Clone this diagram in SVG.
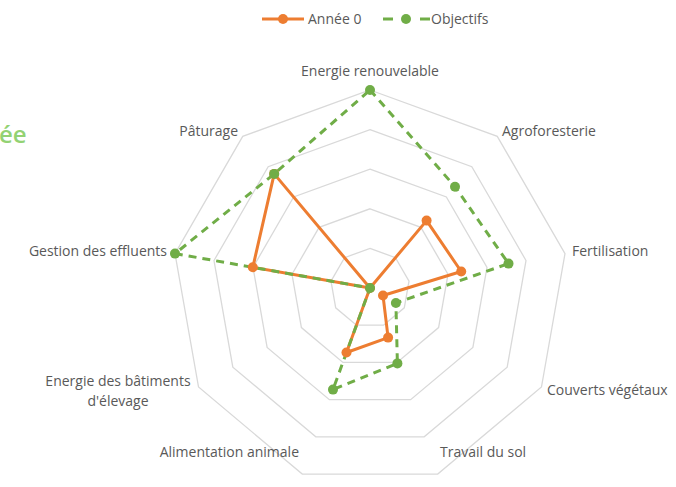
<svg xmlns="http://www.w3.org/2000/svg" width="676" height="487" viewBox="0 0 676 487">
<style>
.grid{fill:none;stroke:#d9d9d9;stroke-width:1.3}
.lbl{font-family:"Open Sans","Liberation Sans",sans-serif;font-size:14px;fill:#595959}
.o{fill:none;stroke:#ed7d31;stroke-width:3;stroke-linejoin:round}
.g{fill:none;stroke:#70ad47;stroke-width:3;stroke-dasharray:8 6}
.om{fill:#ed7d31}
.gm{fill:#70ad47}
</style>
<rect width="676" height="487" fill="#ffffff"/>
<text x="-1" y="143" style="font-family:'Open Sans','Liberation Sans',sans-serif;font-size:24px;font-weight:600;fill:#93d273">ée</text>
<g id="grid">
<polygon class="grid" points="370,248.4 395.45,257.67 409,281.13 404.29,307.8 383.54,325.21 356.46,325.21 335.71,307.8 331,281.13 344.55,257.67"/>
<polygon class="grid" points="370,208.8 420.9,227.33 448,274.25 438.59,327.6 397.09,362.42 342.91,362.42 301.41,327.6 292,274.25 319.1,227.33"/>
<polygon class="grid" points="370,169.2 446.36,197 487,267.37 472.88,347.4 410.63,399.64 329.37,399.64 267.12,347.4 253,267.37 293.64,197"/>
<polygon class="grid" points="370,129.6 471.82,166.66 526,260.5 507.18,367.2 424.18,436.85 315.82,436.85 232.82,367.2 214,260.5 268.18,166.66"/>
<polygon class="grid" points="370,90 497.27,136.32 565,253.62 541.47,387 437.72,474.06 302.28,474.06 198.53,387 175,253.62 242.73,136.32"/>
</g>
<g id="labels" class="lbl">
<text x="370" y="76" text-anchor="middle">Energie renouvelable</text>
<text x="502" y="136">Agroforesterie</text>
<text x="572" y="256">Fertilisation</text>
<text x="547" y="395">Couverts végétaux</text>
<text x="440" y="457">Travail du sol</text>
<text x="299" y="457" text-anchor="end">Alimentation animale</text>
<text x="118" y="386" text-anchor="middle">Energie des bâtiments</text>
<text x="118" y="406" text-anchor="middle">d'élevage</text>
<text x="167" y="256" text-anchor="end">Gestion des effluents</text>
<text x="238" y="136" text-anchor="end">Pâturage</text>
</g>
<g id="connectors">
<polygon id="serie-annee0" class="o" points="370,288 426.6,220.6 461.2,271.5 383,295.5 388.1,337.6 346.5,352.5 370,288 252.8,267.3 274.2,173.9"/>
<polygon id="serie-objectifs" class="g" points="370,90 455,186.7 508.5,263.6 395.9,303 397.4,363.4 333,389.6 370,288 175,253.6 274.2,173.9"/>
</g>
<g id="markers-annee0" class="om">
<circle cx="370" cy="288" r="5"/>
<circle cx="426.6" cy="220.6" r="5"/>
<circle cx="461.2" cy="271.5" r="5"/>
<circle cx="383" cy="295.5" r="5"/>
<circle cx="388.1" cy="337.6" r="5"/>
<circle cx="346.5" cy="352.5" r="5"/>
<circle cx="252.8" cy="267.3" r="5"/>
<circle cx="274.2" cy="173.9" r="5"/>
</g>
<g id="markers-objectifs" class="gm">
<circle cx="370" cy="90" r="5"/>
<circle cx="455" cy="186.7" r="5"/>
<circle cx="508.5" cy="263.6" r="5"/>
<circle cx="395.9" cy="303" r="5"/>
<circle cx="397.4" cy="363.4" r="5"/>
<circle cx="333" cy="389.6" r="5"/>
<circle cx="370" cy="288" r="5"/>
<circle cx="175" cy="253.6" r="5"/>
<circle cx="274.2" cy="173.9" r="5"/>
</g>
<g id="legend">
<line x1="262" y1="19" x2="304" y2="19" stroke="#ed7d31" stroke-width="3"/>
<circle cx="283" cy="19" r="5" class="om"/>
<text x="308" y="24" class="lbl">Année 0</text>
<line x1="383" y1="19" x2="430" y2="19" stroke="#70ad47" stroke-width="3" stroke-dasharray="10 27 10 100"/>
<circle cx="406" cy="19" r="5" class="gm"/>
<text x="431" y="24" class="lbl">Objectifs</text>
</g>
</svg>
